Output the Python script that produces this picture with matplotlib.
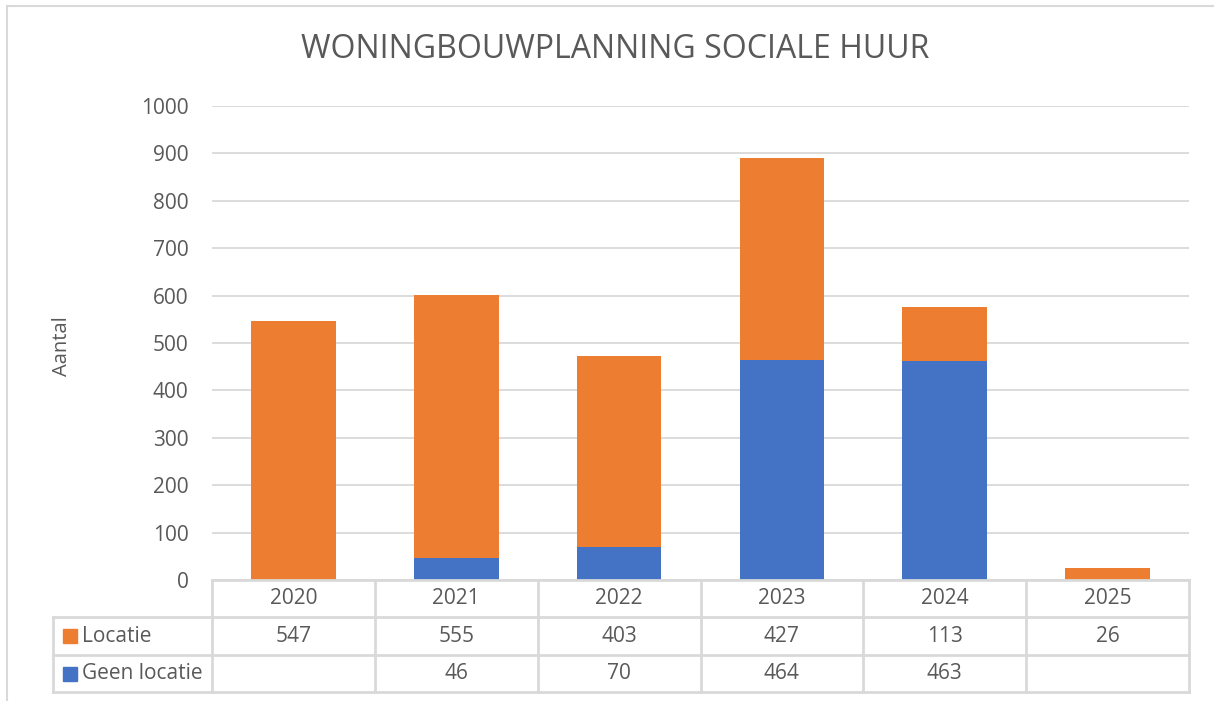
import matplotlib.pyplot as plt
from matplotlib.lines import Line2D
from matplotlib.patches import Rectangle

plt.rcParams['font.family'] = ['Open Sans', 'DejaVu Sans']

# gegevens
jaren = ['2020', '2021', '2022', '2023', '2024', '2025']
locatie = [547, 555, 403, 427, 113, 26]
geen_locatie = [None, 46, 70, 464, 463, None]

oranje = '#ED7D31'
blauw = '#4472C4'
grijs = '#D9D9D9'
tekst = '#595959'
fs = 15

W, H = 1214, 701
fig = plt.figure(figsize=(W / 100, H / 100), dpi=100)

# plotgebied in pixels
x0, x1, y_top, y_bot = 212, 1189, 106, 580
ax = fig.add_axes([x0 / W, 1 - y_bot / H, (x1 - x0) / W, (y_bot - y_top) / H])

def px_x(p):
    return p / W

def px_y(p):
    return 1 - p / H

pos = list(range(len(jaren)))
onder = [v if v is not None else 0 for v in geen_locatie]
ax.bar(pos, onder, width=0.52, color=blauw, zorder=3)
ax.bar(pos, locatie, width=0.52, bottom=onder, color=oranje, zorder=3)

ax.set_xlim(-0.5, len(jaren) - 0.5)
ax.set_ylim(0, 1000)
ax.set_yticks(range(0, 1001, 100))
ax.yaxis.grid(True, color=grijs, linewidth=1.3, zorder=0)
ax.tick_params(axis='y', length=0, labelsize=fs, labelcolor=tekst, pad=17)
ax.set_xticks([])
for s in ax.spines.values():
    s.set_visible(False)

# as-titel en titel
fig.text(px_x(62), px_y(346), 'Aantal', rotation=90, ha='center', va='center',
         fontsize=14.5, color=tekst)
fig.text(px_x(615), px_y(50), 'WONINGBOUWPLANNING SOCIALE HUUR', ha='center', va='center',
         fontsize=23, color=tekst)

# gegevenstabel onder de grafiek
kol_w = (x1 - x0) / len(jaren)
rij = [580, 617, 655, 692]
lijn = dict(color=grijs, linewidth=2, transform=fig.transFigure)
# horizontale lijnen
fig.add_artist(Line2D([px_x(x0), px_x(x1)], [px_y(rij[0])] * 2, **lijn))
for y in rij[1:]:
    fig.add_artist(Line2D([px_x(53), px_x(x1)], [px_y(y)] * 2, **lijn))
# verticale lijnen
fig.add_artist(Line2D([px_x(53)] * 2, [px_y(rij[1]), px_y(rij[3])], **lijn))
for i in range(len(jaren) + 1):
    xx = x0 + i * kol_w
    fig.add_artist(Line2D([px_x(xx)] * 2, [px_y(rij[0]), px_y(rij[3])], **lijn))

for i, j in enumerate(jaren):
    xc = px_x(x0 + (i + 0.5) * kol_w)
    fig.text(xc, px_y((rij[0] + rij[1]) / 2), j, ha='center', va='center',
             fontsize=fs, color=tekst)
    if locatie[i] is not None:
        fig.text(xc, px_y((rij[1] + rij[2]) / 2), str(locatie[i]), ha='center',
                 va='center', fontsize=fs, color=tekst)
    if geen_locatie[i] is not None:
        fig.text(xc, px_y((rij[2] + rij[3]) / 2), str(geen_locatie[i]), ha='center',
                 va='center', fontsize=fs, color=tekst)

for naam, kleur, (ya, yb) in [('Locatie', oranje, (rij[1], rij[2])),
                              ('Geen locatie', blauw, (rij[2], rij[3]))]:
    ym = (ya + yb) / 2
    fig.add_artist(Rectangle((px_x(63), px_y(ym + 7)), 14 / W, 14 / H,
                             color=kleur, transform=fig.transFigure))
    fig.text(px_x(82), px_y(ym), naam, ha='left', va='center', fontsize=fs, color=tekst)

# rand van de grafiek
fig.add_artist(Line2D([px_x(7), px_x(W)], [px_y(6)] * 2, color=grijs, linewidth=1.5,
                      transform=fig.transFigure))
fig.add_artist(Line2D([px_x(7)] * 2, [px_y(6), px_y(H)], color=grijs, linewidth=1.5,
                      transform=fig.transFigure))

fig.savefig('out.png', dpi=100)
